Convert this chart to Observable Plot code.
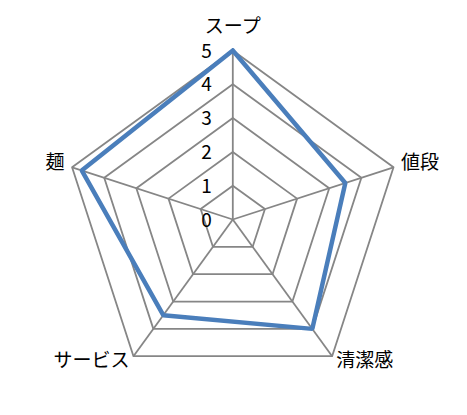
<!DOCTYPE html>
<html>
<head>
<meta charset="utf-8">
<script src="https://cdn.jsdelivr.net/npm/d3@7"></script>
<script src="https://cdn.jsdelivr.net/npm/@observablehq/plot@0.6"></script>
<style>
  html, body { margin: 0; padding: 0; background: #fff; }
  #chart svg { display: block; }
</style>
</head>
<body>
<div id="chart"></div>
<script>
const categories = ["スープ", "値段", "清潔感", "サービス", "麺"];
const values = [5, 3.5, 4, 3.5, 4.7];
const tickValues = [0, 1, 2, 3, 4, 5];
const maxValue = 5;

const W = 467, H = 415;
const cx = 232.3, cy = 219, unit = 33.8;

const n = categories.length;
const angle = i => (i * 2 * Math.PI) / n;
const px = (r, i) => r * Math.sin(angle(i));
const py = (r, i) => r * Math.cos(angle(i));

// closed polygon point lists
const ringPoints = tickValues.filter(t => t > 0).flatMap(t =>
  d3.range(n + 1).map(k => ({ ring: t, i: k % n }))
);
const dataPoints = d3.range(n + 1).map(k => ({ i: k % n, v: values[k % n] }));
const spokes = d3.range(n).map(i => ({ i }));

function labelOffset(i) {
  const s = Math.sin(angle(i)), c = Math.cos(angle(i));
  if (Math.abs(s) < 0.1) return { dx: 0, dy: -24, anchor: "middle" };
  const anchor = s > 0 ? "start" : "end";
  const dx = c > 0 ? 7.5 * Math.sign(s) : 4 * Math.sign(s);
  const dy = c > 0 ? -4.5 : 4.5;
  return { dx, dy, anchor };
}

const labelMarks = categories.map((c, i) => {
  const o = labelOffset(i);
  return Plot.text([c], {
    x: () => px(maxValue, i),
    y: () => py(maxValue, i),
    text: d => d,
    dx: o.dx,
    dy: o.dy,
    textAnchor: o.anchor,
    fontSize: 19,
    fill: "#000"
  });
});

const chart = Plot.plot({
  width: W,
  height: H,
  margin: 0,
  style: { fontFamily: "'Noto Sans CJK JP', 'Noto Sans', sans-serif", background: "#fff" },
  x: { domain: [-cx / unit, (W - cx) / unit], axis: null },
  y: { domain: [-(H - cy) / unit, cy / unit], axis: null },
  marks: [
    Plot.link(spokes, {
      x1: 0, y1: 0,
      x2: d => px(maxValue, d.i),
      y2: d => py(maxValue, d.i),
      stroke: "#868686",
      strokeWidth: 1.8
    }),
    Plot.line(ringPoints, {
      x: d => px(d.ring, d.i),
      y: d => py(d.ring, d.i),
      z: "ring",
      stroke: "#868686",
      strokeWidth: 1.8
    }),
    Plot.line(dataPoints, {
      x: d => px(d.v, d.i),
      y: d => py(d.v, d.i),
      stroke: "#4a7ebb",
      strokeWidth: 4.5,
      strokeLinejoin: "miter"
    }),
    Plot.text(tickValues, {
      x: 0,
      y: d => d,
      text: d => String(d),
      dx: -21,
      dy: 1,
      textAnchor: "end",
      fontSize: 19,
      fill: "#000"
    }),
    ...labelMarks
  ]
});

document.getElementById("chart").appendChild(chart);
</script>
</body>
</html>
